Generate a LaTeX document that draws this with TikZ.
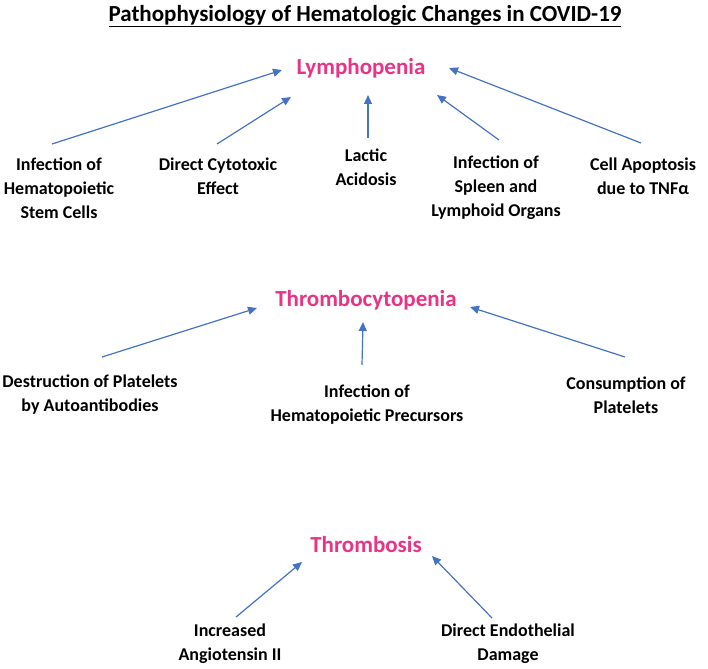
\documentclass[tikz,border=0pt]{standalone}
\usepackage{fontspec}
\setmainfont{Carlito}
\usetikzlibrary{arrows.meta,calc}

\definecolor{headpink}{RGB}{233,51,135}
\definecolor{arrblue}{RGB}{68,114,196}

\tikzset{
  cause/.style={align=center, inner sep=0pt, font=\fontsize{18}{24}\selectfont\bfseries},
  effect/.style={inner sep=0pt, text=headpink, font=\fontsize{23}{28}\selectfont\bfseries},
  arr/.style={draw=arrblue, line width=1.2pt, -{Triangle[length=9pt,width=8pt]}}
}

\begin{document}
\begin{tikzpicture}[x=1pt, y=-1pt]
\useasboundingbox (0,0) rectangle (708,668);

\node[font=\fontsize{23}{27}\selectfont\bfseries] (title) at (365,16) {\underline{Pathophysiology of Hematologic Changes in COVID-19}};

% lymphopenia and its causes
\node[effect] (lymph) at (361,68) {Lymphopenia};
\node[cause] (hsc) at (59,188) {Infection of\\Hematopoietic\\Stem Cells};
\node[cause] (cyto) at (218,176) {Direct Cytotoxic\\Effect};
\node[cause] (lactic) at (366,167) {Lactic\\Acidosis};
\node[cause] (spleen) at (496,188) {Infection of\\Spleen and\\Lymphoid Organs};
\node[cause] (apop) at (643,176) {Cell Apoptosis\\due to TNFα};

\draw[arr] ($(hsc)+(-7,-44)$) -- ($(lymph)+(-79,2)$);
\draw[arr] ($(cyto)+(-1,-32)$) -- ($(lymph)+(-70,29)$);
\draw[arr] ($(lactic)+(2,-29)$) -- ($(lactic)+(2,-72)$);
\draw[arr] ($(spleen)+(3,-48)$) -- ($(lymph)+(76,27)$);
\draw[arr] ($(apop)+(-2,-33)$) -- ($(lymph)+(88,0)$);

% thrombocytopenia
\node[effect] (tcp) at (366,300) {Thrombocytopenia};
\node[cause] (destr) at (90,395) {Destruction of Platelets\\by Autoantibodies};
\node[cause] (precur) at (367,405) {Infection of\\Hematopoietic Precursors};
\node[cause] (consum) at (626,395) {Consumption of\\Platelets};

\draw[arr] ($(destr)+(12,-38)$) -- ($(tcp)+(-109,8)$);
\draw[arr] ($(precur)+(-5,-40)$) -- ($(tcp)+(-3,22)$);
\draw[arr] ($(consum)+(-1,-38)$) -- ($(tcp)+(104,7)$);

% thrombosis
\node[effect] (tbs) at (366,545) {Thrombosis};
\node[cause] (angio) at (230,644) {Increased\\Angiotensin II};
\node[cause] (endo) at (508,644) {Direct Endothelial\\Damage};

\draw[arr] ($(angio)+(6,-27)$) -- ($(tbs)+(-64,17)$);
\draw[arr] ($(endo)+(-16,-26)$) -- ($(tbs)+(66,11)$);

\end{tikzpicture}
\end{document}
